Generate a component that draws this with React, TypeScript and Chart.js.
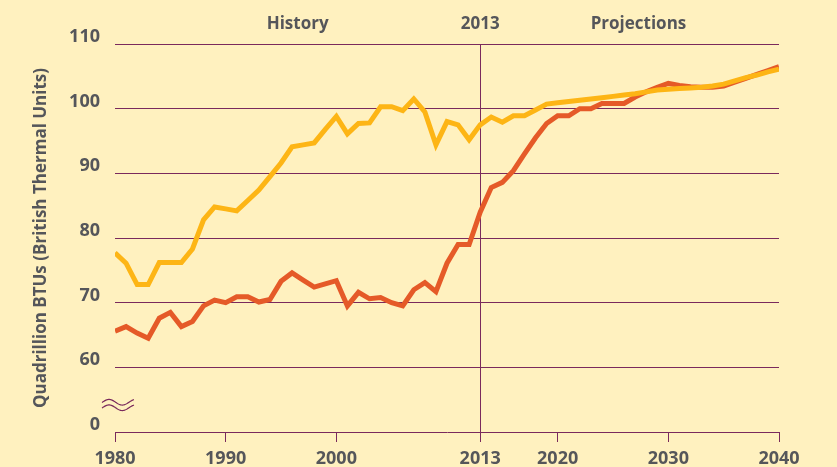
import React, { useEffect, useRef } from "react";
import { Chart, registerables } from "chart.js";

Chart.register(...registerables);

const YEARS = [
  1980, 1981, 1982, 1983, 1984, 1985, 1986, 1987, 1988, 1989,
  1990, 1991, 1992, 1993, 1994, 1995, 1996, 1997, 1998, 1999,
  2000, 2001, 2002, 2003, 2004, 2005, 2006, 2007, 2008, 2009,
  2010, 2011, 2012, 2013, 2014, 2015, 2016, 2017, 2018, 2019,
  2020, 2021, 2022, 2023, 2024, 2025, 2026, 2027, 2028, 2029,
  2030, 2031, 2032, 2033, 2034, 2035, 2036, 2037, 2038, 2039, 2040,
];

const CONSUMPTION = [
  77.7, 76.1, 72.8, 72.8, 76.2, 76.2, 76.2, 78.3, 82.8, 84.8,
  84.5, 84.2, 85.8, 87.4, 89.5, 91.6, 94.1, 94.4, 94.7, 96.8,
  98.8, 96.1, 97.7, 97.8, 100.3, 100.3, 99.7, 101.5, 99.5, 94.4,
  98.0, 97.5, 95.2, 97.5, 98.7, 97.9, 98.9, 98.9, 99.8, 100.7,
  100.9, 101.1, 101.3, 101.5, 101.7, 101.9, 102.1, 102.3, 102.6, 102.9,
  103.0, 103.1, 103.2, 103.3, 103.5, 103.8, 104.3, 104.8, 105.2, 105.7, 106.1,
];

const PRODUCTION = [
  65.6, 66.3, 65.3, 64.5, 67.6, 68.5, 66.3, 67.1, 69.5, 70.4,
  70.0, 70.9, 70.9, 70.1, 70.5, 73.3, 74.6, 73.5, 72.4, 72.9,
  73.4, 69.5, 71.6, 70.6, 70.8, 70.0, 69.5, 72.0, 73.1, 71.7,
  76.1, 79.0, 79.0, 84.0, 87.8, 88.6, 90.4, 93.0, 95.5, 97.7,
  98.9, 98.9, 100.0, 100.0, 100.8, 100.8, 100.8, 101.8, 102.6, 103.3,
  103.9, 103.6, 103.4, 103.3, 103.3, 103.5, 104.1, 104.7, 105.3, 105.9, 106.5,
];

const X_TICKS = [1980, 1990, 2000, 2013, 2020, 2030, 2040];
const Y_TICKS = [50, 60, 70, 80, 90, 100, 110];
const Y_TICK_LABELS = ["0", "60", "70", "80", "90", "100", "110"];
const DIVIDER_YEAR = 2013;
const BREAK_VALUE = 54.6;
const TOP_LABELS = ["History", "2013", "Projections"];
const TOP_LABEL_YEARS = [1996.5, 2013, 2027.3];
const Y_TITLE = "Quadrillion BTUs (British Thermal Units)";

const BG = "#FFF1BF";
const PURPLE = "#7A2A5C";
const TEXT = "#55565A";
const YELLOW = "#FDB515";
const RED = "#E55A28";
const FONT = "'Open Sans', sans-serif";

const decorPlugin = {
  id: "decor",
  beforeDraw(chart: any) {
    const { ctx, width, height } = chart;
    ctx.save();
    ctx.fillStyle = BG;
    ctx.fillRect(0, 0, width, height);
    ctx.restore();
  },
  afterDraw(chart: any) {
    const { ctx, chartArea, scales } = chart;
    const xs = scales.x;
    const ys = scales.y;
    ctx.save();
    // top labels
    ctx.fillStyle = TEXT;
    ctx.font = `700 17px ${FONT}`;
    ctx.textAlign = "center";
    ctx.textBaseline = "alphabetic";
    TOP_LABELS.forEach((t, i) => {
      ctx.fillText(t, xs.getPixelForValue(TOP_LABEL_YEARS[i]), chartArea.top - 15);
    });
    // axis break mark
    ctx.strokeStyle = PURPLE;
    ctx.lineWidth = 1.2;
    const cy = ys.getPixelForValue(BREAK_VALUE);
    const x0 = chartArea.left - 13;
    const w = 32;
    const period = 26.6;
    const amp = 2.8;
    [0, 5.5].forEach((dy) => {
      ctx.beginPath();
      for (let t = 0; t <= w; t += 0.5) {
        const ph = (2 * Math.PI * (t - 7)) / period + Math.PI / 2;
        const y = cy + dy - amp * Math.sin(ph);
        if (t === 0) ctx.moveTo(x0 + t, y);
        else ctx.lineTo(x0 + t, y);
      }
      ctx.stroke();
    });
    ctx.restore();
  },
};

export default function App() {
  const ref = useRef<HTMLCanvasElement | null>(null);

  useEffect(() => {
    if (!ref.current) return;
    const chart = new Chart(ref.current, {
      type: "line",
      data: {
        datasets: [
          {
            label: "Consumption",
            data: YEARS.map((y, i) => ({ x: y, y: CONSUMPTION[i] })),
            borderColor: YELLOW,
            backgroundColor: YELLOW,
            borderWidth: 5,
            pointRadius: 0,
            tension: 0,
          },
          {
            label: "Production",
            data: YEARS.map((y, i) => ({ x: y, y: PRODUCTION[i] })),
            borderColor: RED,
            backgroundColor: RED,
            borderWidth: 5,
            pointRadius: 0,
            tension: 0,
          },
        ],
      },
      options: {
        responsive: false,
        animation: false,
        events: [],
        layout: { padding: { left: 0, top: 44, right: 58, bottom: 0 } },
        plugins: {
          legend: { display: false },
          tooltip: { enabled: false },
        },
        scales: {
          x: {
            type: "linear",
            min: 1980,
            max: 2040,
            afterBuildTicks: (s: any) => {
              s.ticks = X_TICKS.map((v) => ({ value: v }));
            },
            afterFit: (s: any) => {
              s.height = 35;
            },
            ticks: {
              autoSkip: false,
              maxRotation: 0,
              padding: 6,
              color: TEXT,
              font: { family: FONT, size: 18, weight: "700" },
              callback: (v: any) => String(v),
            },
            grid: {
              drawOnChartArea: true,
              drawTicks: true,
              tickLength: 10,
              tickColor: PURPLE,
              lineWidth: 1,
              color: (c: any) =>
                c.tick && c.tick.value === DIVIDER_YEAR ? PURPLE : "rgba(0,0,0,0)",
            },
            border: { display: true, color: PURPLE, width: 1 },
          },
          y: {
            type: "linear",
            min: 50,
            max: 110,
            afterBuildTicks: (s: any) => {
              s.ticks = Y_TICKS.map((v) => ({ value: v }));
            },
            afterFit: (s: any) => {
              s.width = 115;
            },
            ticks: {
              padding: 15,
              labelOffset: -7,
              color: TEXT,
              font: { family: FONT, size: 18, weight: "700" },
              callback: (v: any) => {
                const i = Y_TICKS.indexOf(v);
                return i >= 0 ? Y_TICK_LABELS[i] : "";
              },
            },
            grid: {
              drawTicks: false,
              lineWidth: 1,
              color: (c: any) =>
                c.tick && c.tick.value === Y_TICKS[0] ? "rgba(0,0,0,0)" : PURPLE,
            },
            border: { display: false },
            title: {
              display: true,
              text: Y_TITLE,
              color: TEXT,
              font: { family: FONT, size: 17, weight: "700" },
              padding: { top: 31, bottom: 0 },
            },
          },
        },
      },
      plugins: [decorPlugin],
    });
    return () => chart.destroy();
  }, []);

  return (
    <div
      style={{
        position: "fixed",
        left: 0,
        top: 0,
        width: 837,
        height: 467,
        background: BG,
      }}
    >
      <canvas ref={ref} width={837} height={467} style={{ width: 837, height: 467 }} />
    </div>
  );
}
